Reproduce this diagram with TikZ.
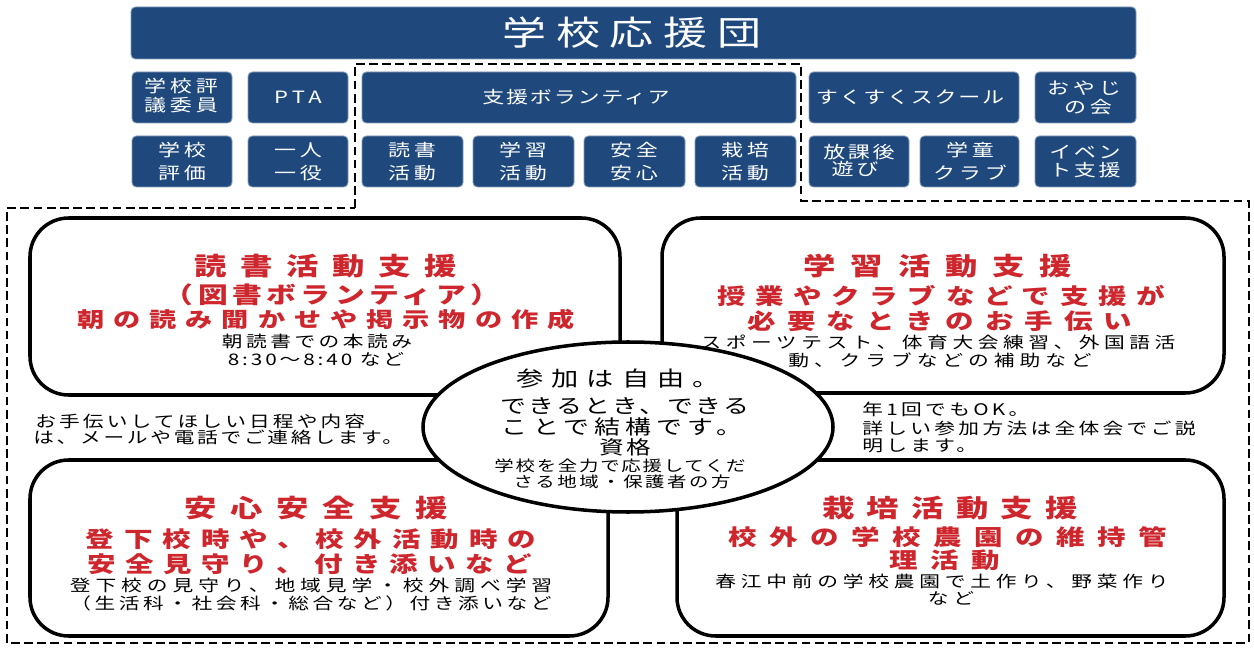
\documentclass[tikz,border=0pt]{standalone}
\usepackage{fontspec}
\usepackage{graphicx}
\newfontfamily\jp{Noto Sans CJK JP}
\definecolor{navy}{RGB}{31,73,125}
\definecolor{jred}{RGB}{206,38,45}
\newcommand\jfont[2]{\pgfmathsetmacro\fsz{#1*0.56693}\fontsize{\fsz pt}{\fsz pt}\selectfont\addfontfeature{LetterSpace=#2}}
\newcommand\jt[3]{\scalebox{1.3}[1]{\jfont{#1}{#2}#3}}
\begin{document}
\begin{tikzpicture}[x=0.02cm,y=-0.02cm,
  navybox/.style={fill=navy, draw=navy!55!white, line width=0.5pt, rounded corners=2.5pt},
  bigbox/.style={draw=black, line width=2pt, rounded corners=22pt, fill=white},
  wl/.style={text=white, inner sep=0pt, font=\jp},
  rl/.style={text=jred, inner sep=0pt, font=\jp\bfseries},
  kl/.style={text=black, inner sep=0pt, font=\jp},
  kll/.style={text=black, inner sep=0pt, font=\jp, anchor=west},
  dashline/.style={draw=black, line width=1.1pt, dash pattern=on 5pt off 2.5pt}]
\useasboundingbox (0,0) rectangle (1254,648);
\fill[white] (0,0) rectangle (1254,648);

% dashed outline
\draw[dashline] (355,208) -- (355,64) -- (801,64) -- (801,201) -- (1249,201) -- (1249,643) -- (7,643) -- (7,208) -- cycle;

% banner
\draw[navybox] (131,7) rectangle (1136,59);
\node[wl] (title) at (632,33) {\jt{34}{22}{学校応援団}};

% row 2
\draw[navybox] (132,72) rectangle (232,123);
\draw[navybox] (248,72) rectangle (348,123);
\draw[navybox] (362,72) rectangle (796,123);
\draw[navybox] (809,72) rectangle (1019,123);
\draw[navybox] (1035,72) rectangle (1136,123);
\node[wl] (r2a1) at (181,86) {\jt{17}{18}{学校評}};
\node[wl] (r2a2) at (181,105) {\jt{17}{18}{議委員}};
\node[wl] (r2b) at (298,97) {\jt{17}{20}{PTA}};
\node[wl] (r2c) at (576,97) {\jt{17}{8}{支援ボランティア}};
\node[wl] (r2d) at (910,97) {\jt{17}{8}{すくすくスクール}};
\node[wl] (r2e1) at (1084,88) {\jt{17}{18}{おやじ}};
\node[wl] (r2e2) at (1088,107) {\jt{17}{18}{の会}};

% row 3
\draw[navybox] (132,136) rectangle (232,187);
\draw[navybox] (248,136) rectangle (348,187);
\draw[navybox] (362,136) rectangle (463,187);
\draw[navybox] (473,136) rectangle (574,187);
\draw[navybox] (584,136) rectangle (685,187);
\draw[navybox] (695,136) rectangle (796,187);
\draw[navybox] (809,136) rectangle (909,187);
\draw[navybox] (920,136) rectangle (1019,187);
\draw[navybox] (1035,136) rectangle (1136,187);
\node[wl] (r3a1) at (182,150) {\jt{17}{18}{学校}};
\node[wl] (r3a2) at (182,173) {\jt{17}{18}{評価}};
\node[wl] (r3b1) at (298,150) {\jt{17}{18}{一人}};
\node[wl] (r3b2) at (298,173) {\jt{17}{18}{一役}};
\node[wl] (r3c1) at (412,150) {\jt{17}{18}{読書}};
\node[wl] (r3c2) at (412,173) {\jt{17}{18}{活動}};
\node[wl] (r3d1) at (523,150) {\jt{17}{18}{学習}};
\node[wl] (r3d2) at (523,173) {\jt{17}{18}{活動}};
\node[wl] (r3e1) at (634,150) {\jt{17}{18}{安全}};
\node[wl] (r3e2) at (634,173) {\jt{17}{18}{安心}};
\node[wl] (r3f1) at (745,150) {\jt{17}{18}{栽培}};
\node[wl] (r3f2) at (745,173) {\jt{17}{18}{活動}};
\node[wl] (r3g1) at (859,152) {\jt{17}{12}{放課後}};
\node[wl] (r3g2) at (855,169) {\jt{17}{12}{遊び}};
\node[wl] (r3h1) at (970,150) {\jt{17}{18}{学童}};
\node[wl] (r3h2) at (970,173) {\jt{17}{18}{クラブ}};
\node[wl] (r3i1) at (1085,152) {\jt{17}{12}{イベン}};
\node[wl] (r3i2) at (1085,170) {\jt{17}{12}{ト支援}};

% big boxes
\draw[bigbox] (30,218) rectangle (620,395);
\draw[bigbox] (662,218) rectangle (1224,393);
\draw[bigbox] (30,460) rectangle (608,636);
\draw[bigbox] (677,460) rectangle (1224,636);

% TL text
\node[rl] (tl1) at (326,266) {\jt{25}{42}{読書活動支援}};
\node[rl] (tl2) at (332,295) {\jt{23}{15}{（図書ボランティア）}};
\node[rl] (tl3) at (326,320) {\jt{21}{33}{朝の読み聞かせや掲示物の作成}};
\node[kl] (tl4) at (317,341) {\jt{16}{17}{朝読書での本読み}};
\node[kl] (tl5) at (316,359) {\jt{16}{14}{8:30〜8:40 など}};

% TR text
\node[rl] (tr1) at (938,266) {\jt{25}{46}{学習活動支援}};
\node[rl] (tr2) at (941,296) {\jt{22}{34}{授業やクラブなどで支援が}};
\node[rl] (tr3) at (940,321) {\jt{22}{39}{必要なときのお手伝い}};
\node[kl] (tr4) at (938,342) {\jt{16}{22}{スポーツテスト、体育大会練習、外国語活}};
\node[kl] (tr5) at (940,360) {\jt{16}{24}{動、クラブなどの補助など}};

% BL text
\node[rl] (bl1) at (316,508) {\jt{25}{43}{安心安全支援}};
\node[rl] (bl2) at (311,539) {\jt{22}{35}{登下校時や、校外活動時の}};
\node[rl] (bl3) at (310,564) {\jt{22}{33}{安全見守り、付き添いなど}};
\node[kl] (bl4) at (311,585) {\jt{16}{24}{登下校の見守り、地域見学・校外調べ学習}};
\node[kl] (bl5) at (311,603) {\jt{16}{17}{（生活科・社会科・総合など）付き添いなど}};

% BR text
\node[rl] (br1) at (950,508) {\jt{25}{38}{栽培活動支援}};
\node[rl] (br2) at (948,537) {\jt{22}{44}{校外の学校農園の維持管}};
\node[rl] (br3) at (945,560) {\jt{22}{44}{理活動}};
\node[kl] (br4) at (942,581) {\jt{16}{23}{春江中前の学校農園で土作り、野菜作り}};
\node[kl] (br5) at (951,598) {\jt{16}{23}{など}};

% side texts
\node[kll] (lt1) at (35,421) {\jt{16}{15}{お手伝いしてほしい日程や内容}};
\node[kll] (lt2) at (33,437) {\jt{16}{13}{は、メールや電話でご連絡します。}};
\node[kll] (rt1) at (862,409) {\jt{16}{16}{年1回でもOK。}};
\node[kll] (rt2) at (862,428) {\jt{16}{16}{詳しい参加方法は全体会でご説}};
\node[kll] (rt3) at (862,446) {\jt{16}{16}{明します。}};

% center ellipse
\draw[line width=2pt, fill=white] (628,427) ellipse [x radius=205, y radius=85];
\node[kl] (c1) at (618,379) {\jt{21}{30}{参加は自由。}};
\node[kl] (c2) at (625,406) {\jt{20}{9}{できるとき、できる}};
\node[kl] (c3) at (622,427) {\jt{20}{20}{ことで結構です。}};
\node[kl] (c4) at (625,447) {\jt{19}{10}{資格}};
\node[kl] (c5) at (620,466) {\jt{15}{9}{学校を全力で応援してくだ}};
\node[kl] (c6) at (622,482) {\jt{15}{13}{さる地域・保護者の方}};
\end{tikzpicture}
\end{document}
